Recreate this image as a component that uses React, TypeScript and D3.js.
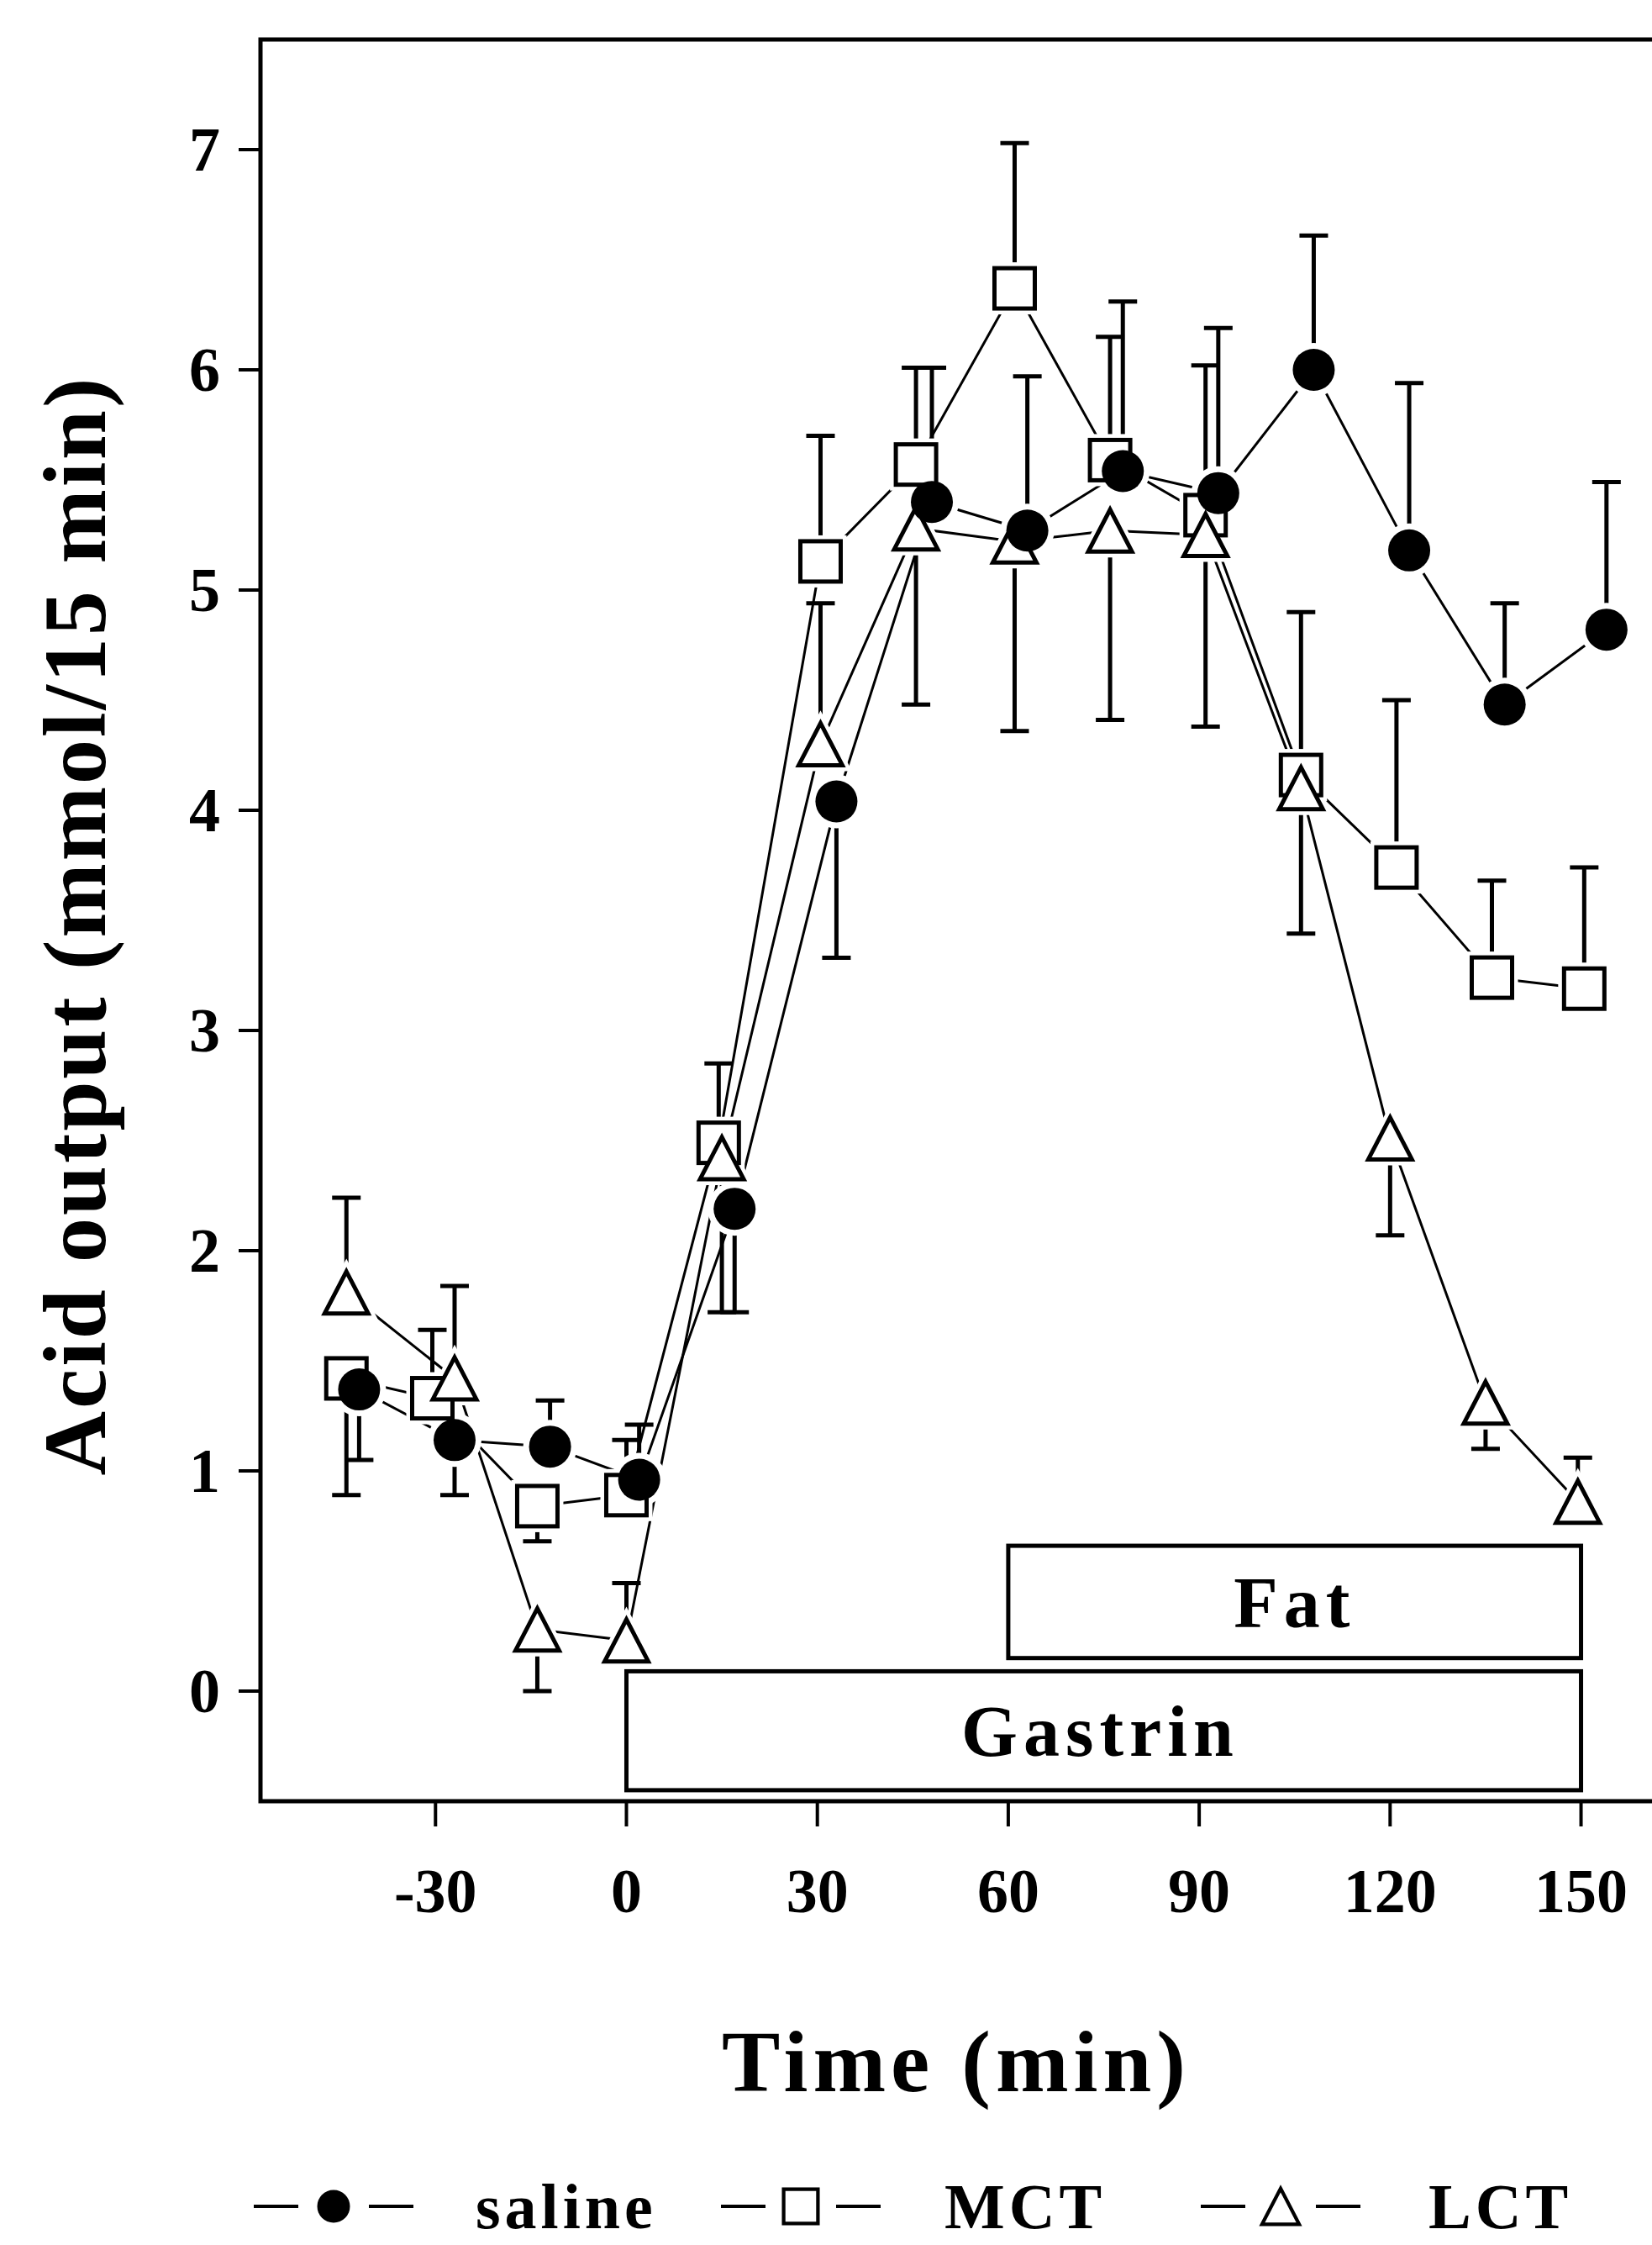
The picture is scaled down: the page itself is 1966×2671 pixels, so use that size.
import React from 'react';
import * as d3 from 'd3';

// acid output, mmol/15 min
const yTicks = [0, 1, 2, 3, 4, 5, 6, 7];
const xTicks = [-30, 0, 30, 60, 90, 120, 150];

const salineTime = [-42, -27, -12, 2, 17, 33, 48, 63, 78, 93, 108, 123, 138, 154];
const salineMean = [1.37, 1.14, 1.11, 0.96, 2.19, 4.04, 5.4, 5.27, 5.54, 5.44, 6.0, 5.18, 4.48, 4.82];
// signed SE: + drawn upward, - drawn downward
const salineErr = [-0.32, -0.25, 0.21, 0.25, -0.47, -0.71, 0.61, 0.7, 0.77, 0.75, 0.61, 0.76, 0.46, 0.67];

const mctTime = [-44, -30.5, -14, 0, 14.5, 30.5, 45.5, 61, 76, 91, 106, 121, 136, 150.5];
const mctMean = [1.42, 1.33, 0.84, 0.89, 2.49, 5.13, 5.57, 6.37, 5.59, 5.34, 4.16, 3.74, 3.24, 3.19];
const mctErr = [-0.53, 0.31, -0.16, 0.25, 0.36, 0.57, 0.44, 0.66, 0.56, 0.68, 0.74, 0.76, 0.44, 0.55];

const lctTime = [-44, -27, -14, 0, 15, 30.5, 45.5, 61, 76, 91, 106, 120, 135, 149.5];
const lctMean = [1.81, 1.42, 0.28, 0.23, 2.42, 4.3, 5.28, 5.22, 5.27, 5.25, 4.1, 2.51, 1.31, 0.86];
const lctErr = [0.43, 0.42, -0.28, 0.26, -0.7, 0.64, -0.8, -0.86, -0.86, -0.87, -0.66, -0.44, -0.21, 0.2];

// infusion periods [start, end] in min, box extent in y units
const gastrin = { start: 0, end: 150, top: 0.09, bottom: -0.45, label: 'Gastrin' };
const fat = { start: 60, end: 150, top: 0.66, bottom: 0.15, label: 'Fat' };

const FONT = '"Liberation Serif", "Times New Roman", serif';

type Kind = 'circle' | 'square' | 'triangle';

const series: { name: string; kind: Kind; t: number[]; v: number[]; e: number[] }[] = [
  { name: 'MCT', kind: 'square', t: mctTime, v: mctMean, e: mctErr },
  { name: 'LCT', kind: 'triangle', t: lctTime, v: lctMean, e: lctErr },
  { name: 'saline', kind: 'circle', t: salineTime, v: salineMean, e: salineErr },
];

const legendOrder = ['saline', 'MCT', 'LCT'];

function Marker({ kind, x, y, s = 1, halo = false }: { kind: Kind; x: number; y: number; s?: number; halo?: boolean }) {
  const stroke = halo ? '#fff' : '#000';
  const sw = halo ? 14 : 5 * Math.max(s, 0.8);
  if (kind === 'circle') {
    return <circle cx={x} cy={y} r={25 * s} fill={halo ? '#fff' : '#000'} stroke={stroke} strokeWidth={halo ? sw : 0} />;
  }
  if (kind === 'square') {
    const h = 24 * s;
    return <rect x={x - h} y={y - h} width={2 * h} height={2 * h} fill="#fff" stroke={stroke} strokeWidth={sw} />;
  }
  const w = 26 * s, t = 25 * s;
  return <path d={`M${x},${y - t}L${x + w},${y + t}L${x - w},${y + t}Z`} fill="#fff" stroke={stroke} strokeWidth={sw} strokeLinejoin="miter" />;
}

export default function App() {
  const W = 1966, H = 2671;
  const x = d3.scaleLinear().domain([-57.5, 163]).range([310, 1980]);
  const y = d3.scaleLinear().domain([-0.5, 7.5]).range([2143, 47]);
  const [x0, x1] = x.range();
  const [yb, yt] = y.range();

  const line = d3.line<number>();

  const box = (b: typeof gastrin) => (
    <g key={b.label}>
      <rect x={x(b.start)} y={y(b.top)} width={x(b.end) - x(b.start)} height={y(b.bottom) - y(b.top)}
        fill="#fff" stroke="#000" strokeWidth={5} />
      <text x={(x(b.start) + x(b.end)) / 2 + (b.label === 'Fat' ? 0 : -4)} y={(y(b.top) + y(b.bottom)) / 2 + 30}
        textAnchor="middle" fontFamily={FONT} fontWeight="bold" fontSize={86} letterSpacing={7}>{b.label}</text>
    </g>
  );

  // legend layout
  const legendY = 2625;
  const legendItems = [
    { mx: 397, tx: 566 },
    { mx: 953, tx: 1124 },
    { mx: 1524, tx: 1700 },
  ];

  return (
    <svg width={W} height={H} style={{ position: 'absolute', left: 0, top: 0, background: '#fff' }}>
      <rect width={W} height={H} fill="#fff" />

      {/* frame (left, top, bottom; right edge cropped) */}
      <path d={`M${x1},${yt}L${x0},${yt}L${x0},${yb}L${x1},${yb}`} fill="none" stroke="#000" strokeWidth={5} />

      {/* y ticks */}
      {yTicks.map((v) => (
        <g key={'y' + v}>
          <line x1={x0 - 26} x2={x0} y1={y(v)} y2={y(v)} stroke="#000" strokeWidth={4} />
          <text x={262} y={y(v) + 25} textAnchor="end" fontFamily={FONT} fontWeight="bold" fontSize={74}>{v}</text>
        </g>
      ))}

      {/* x ticks */}
      {xTicks.map((t) => (
        <g key={'x' + t}>
          <line x1={x(t)} x2={x(t)} y1={yb} y2={yb + 30} stroke="#000" strokeWidth={4} />
          <text x={x(t)} y={2275} textAnchor="middle" fontFamily={FONT} fontWeight="bold" fontSize={74}>{t}</text>
        </g>
      ))}

      {box(gastrin)}
      {box(fat)}

      {/* connecting lines */}
      {series.map((s) => (
        <path key={'l' + s.name} d={line(s.t.map((t, i) => [x(t), y(s.v[i])]) as any) || ''}
          fill="none" stroke="#000" strokeWidth={3} />
      ))}

      {/* error bars */}
      {series.map((s) => (
        <g key={'e' + s.name}>
          {s.t.map((t, i) => {
            const cx = x(t);
            const y2 = y(s.v[i] + s.e[i]);
            return (
              <g key={i}>
                <line x1={cx} x2={cx} y1={y(s.v[i])} y2={y2} stroke="#000" strokeWidth={5} />
                <line x1={cx - 17} x2={cx + 17} y1={y2} y2={y2} stroke="#000" strokeWidth={5} />
              </g>
            );
          })}
        </g>
      ))}

      {/* white halos so lines break around markers */}
      {series.map((s) => (
        <g key={'h' + s.name}>
          {s.t.map((t, i) => <Marker key={i} kind={s.kind} x={x(t)} y={y(s.v[i])} halo />)}
        </g>
      ))}

      {/* markers */}
      {series.map((s) => (
        <g key={'m' + s.name}>
          {s.t.map((t, i) => <Marker key={i} kind={s.kind} x={x(t)} y={y(s.v[i])} />)}
        </g>
      ))}

      {/* axis titles */}
      <text transform="translate(125,1101) rotate(-90)" textAnchor="middle" fontFamily={FONT} fontWeight="bold"
        fontSize={106} letterSpacing={3}>Acid output (mmol/15 min)</text>
      <text x={1138} y={2488} textAnchor="middle" fontFamily={FONT} fontWeight="bold" fontSize={104}
        letterSpacing={6}>Time (min)</text>

      {/* legend */}
      {legendOrder.map((name, i) => {
        const s = series.find((d) => d.name === name)!;
        const it = legendItems[i];
        return (
          <g key={'lg' + name}>
            <line x1={it.mx - 95} x2={it.mx - 42} y1={legendY} y2={legendY} stroke="#000" strokeWidth={4} />
            <line x1={it.mx + 42} x2={it.mx + 95} y1={legendY} y2={legendY} stroke="#000" strokeWidth={4} />
            <Marker kind={s.kind} x={it.mx} y={legendY} s={s.kind === 'circle' ? 0.78 : 0.85} />
            <text x={it.tx} y={2651} fontFamily={FONT} fontWeight="bold" fontSize={76} letterSpacing={5}>{name}</text>
          </g>
        );
      })}
    </svg>
  );
}
